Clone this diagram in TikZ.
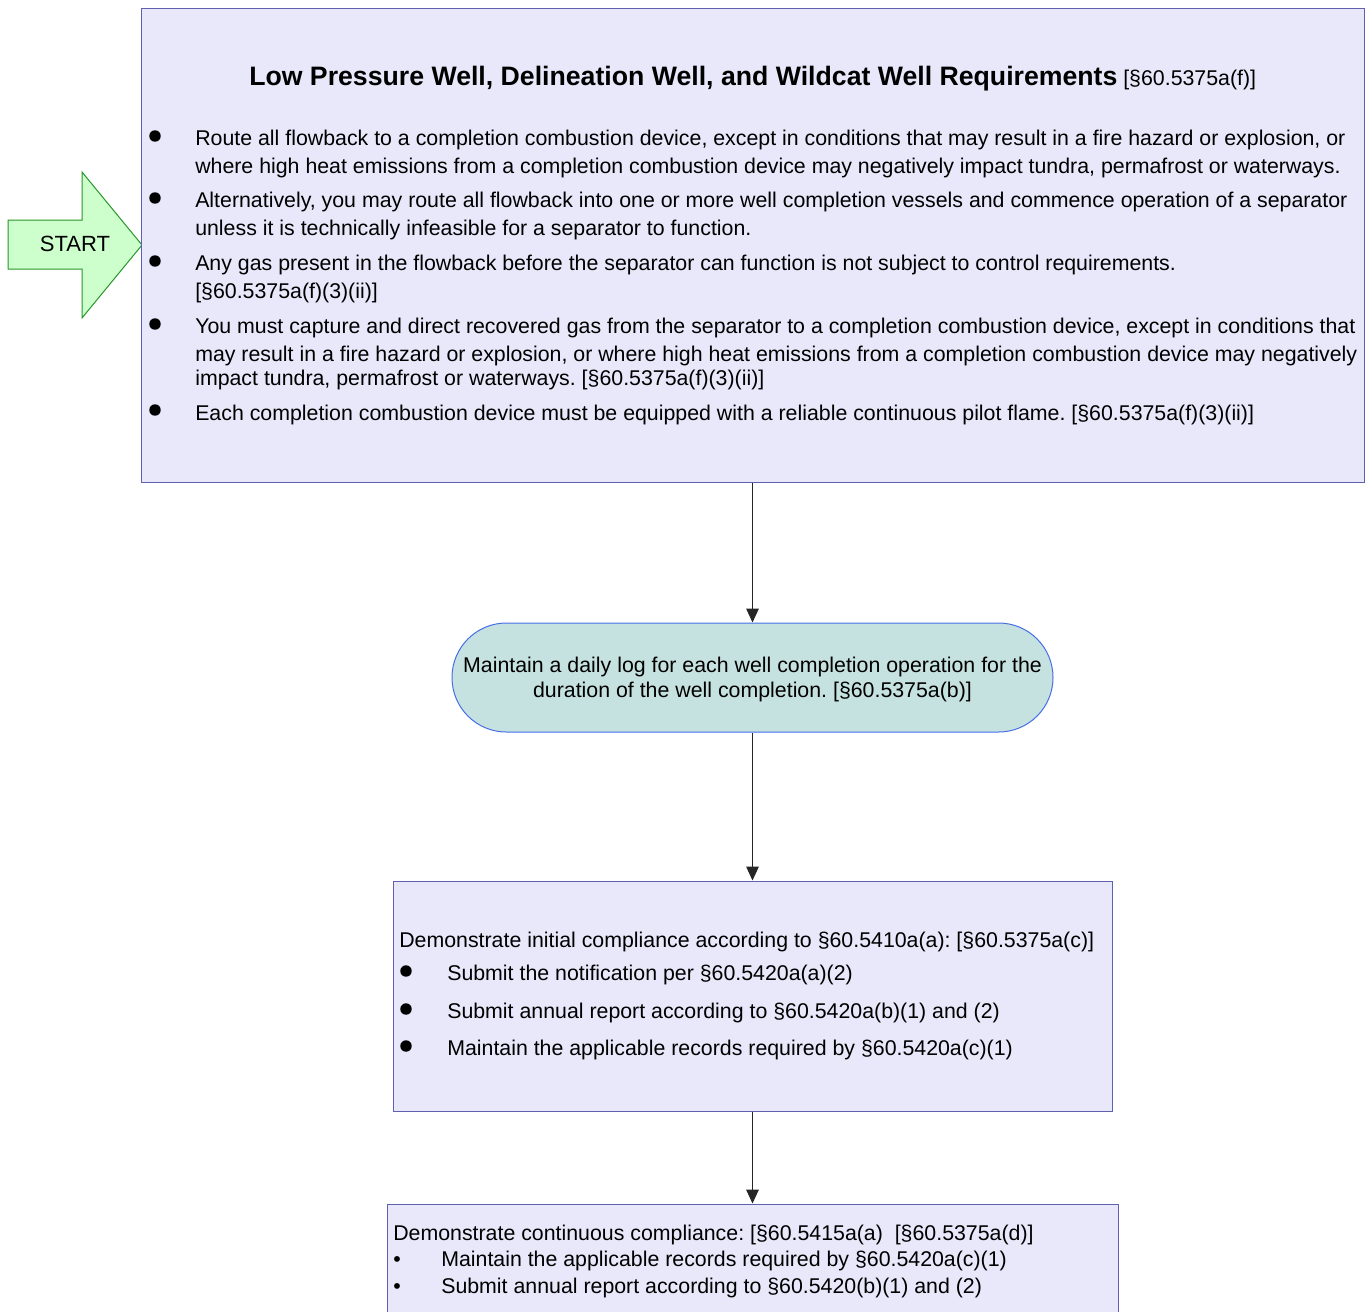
\documentclass[tikz,border=0pt]{standalone}
\usepackage{fontspec}
\setmainfont{Liberation Sans}
\frenchspacing
\usetikzlibrary{arrows.meta,fit}
\definecolor{boxfill}{RGB}{232,232,250}
\definecolor{boxline}{RGB}{96,96,176}
\definecolor{logfill}{RGB}{198,226,224}
\definecolor{logline}{RGB}{70,110,230}
\definecolor{startfill}{RGB}{204,255,204}
\definecolor{startline}{RGB}{40,150,40}
\tikzset{
  box/.style={draw=boxline, fill=boxfill, line width=0.75pt, inner sep=0pt},
  logbox/.style={draw=logline, fill=logfill, line width=0.75pt, inner sep=0pt, rounded corners=40.8pt},
  txt/.style={anchor=base west, inner sep=0pt, font=\fontsize{16pt}{19pt}\selectfont},
  ctxt/.style={anchor=base, inner sep=0pt, font=\fontsize{16pt}{19pt}\selectfont},
  flow/.style={draw=black!85, line width=0.75pt, -{Triangle[length=10.5pt,width=9.5pt]}},
  dot/.style={circle, fill=black, inner sep=0pt, minimum size=8.6pt},
}
\begin{document}
\begin{tikzpicture}[x=0.75pt, y=-0.75pt]
\clip (0,0) rectangle (1367,1311);
\useasboundingbox (0,0) rectangle (1367,1311);

% start arrow
\draw[fill=startfill, draw=startline, line width=0.75pt]
  (8,220) -- (82,220) -- (82,172) -- (142,245) -- (82,318) -- (82,269) -- (8,269) -- cycle;
\node[ctxt, font=\fontsize{16.5pt}{19pt}\selectfont] (start) at (75,251) {START};

% requirements box
\node[box, fit={(141,8) (1364,482)}] (req) {};
\node[txt] (title) at (249,85) {{\fontsize{20pt}{23pt}\selectfont\bfseries Low Pressure Well, Delineation Well, and Wildcat Well Requirements} [§60.5375a(f)]};
\node[dot] (b1) at (155,136) {};
\node[dot] (b2) at (155,198) {};
\node[dot] (b3) at (155,261) {};
\node[dot] (b4) at (155,324) {};
\node[dot] (b5) at (155,410) {};
\node[txt] (r1a) at (195,145) {Route all flowback to a completion combustion device, except in conditions that may result in a fire hazard or explosion, or};
\node[txt] (r1b) at (195,173) {where high heat emissions from a completion combustion device may negatively impact tundra, permafrost or waterways.};
\node[txt] (r2a) at (195,207) {Alternatively, you may route all flowback into one or more well completion vessels and commence operation of a separator};
\node[txt] (r2b) at (195,235) {unless it is technically infeasible for a separator to function.};
\node[txt] (r3a) at (195,270) {Any gas present in the flowback before the separator can function is not subject to control requirements.};
\node[txt] (r3b) at (195,298) {[§60.5375a(f)(3)(ii)]};
\node[txt] (r4a) at (195,333) {You must capture and direct recovered gas from the separator to a completion combustion device, except in conditions that};
\node[txt] (r4b) at (195,361) {may result in a fire hazard or explosion, or where high heat emissions from a completion combustion device may negatively};
\node[txt] (r4c) at (195,385) {impact tundra, permafrost or waterways. [§60.5375a(f)(3)(ii)]};
\node[txt] (r5a) at (195,420) {Each completion combustion device must be equipped with a reliable continuous pilot flame. [§60.5375a(f)(3)(ii)]};

% daily log
\node[logbox, fit={(452,623) (1053,732)}] (log) {};
\node[ctxt] (l1) at (752.5,672) {Maintain a daily log for each well completion operation for the};
\node[ctxt] (l2) at (752.5,697) {duration of the well completion. [§60.5375a(b)]};

% initial compliance
\node[box, fit={(393,881) (1112,1111)}] (init) {};
\node[txt] (i0) at (399,947) {Demonstrate initial compliance according to §60.5410a(a): [§60.5375a(c)]};
\node[dot] (ib1) at (406,971) {};
\node[dot] (ib2) at (406,1009) {};
\node[dot] (ib3) at (406,1046) {};
\node[txt] (i1) at (447,980) {Submit the notification per §60.5420a(a)(2)};
\node[txt] (i2) at (447,1018) {Submit annual report according to §60.5420a(b)(1) and (2)};
\node[txt] (i3) at (447,1055) {Maintain the applicable records required by §60.5420a(c)(1)};

% continuous compliance
\node[box, fit={(387,1204) (1118,1330)}] (cont) {};
\node[txt] (c0) at (393,1240) {Demonstrate continuous compliance: [§60.5415a(a)\ \ [§60.5375a(d)]};
\node[txt] (cb1) at (393,1266) {\textbullet};
\node[txt] (cb2) at (393,1293) {\textbullet};
\node[txt] (c1) at (441,1266) {Maintain the applicable records required by §60.5420a(c)(1)};
\node[txt] (c2) at (441,1293) {Submit annual report according to §60.5420(b)(1) and (2)};

% connectors
\draw[flow] (req.south) -- (log.north);
\draw[flow] (log.south) -- (init.north);
\draw[flow] (init.south) -- (cont.north);
\end{tikzpicture}
\end{document}
